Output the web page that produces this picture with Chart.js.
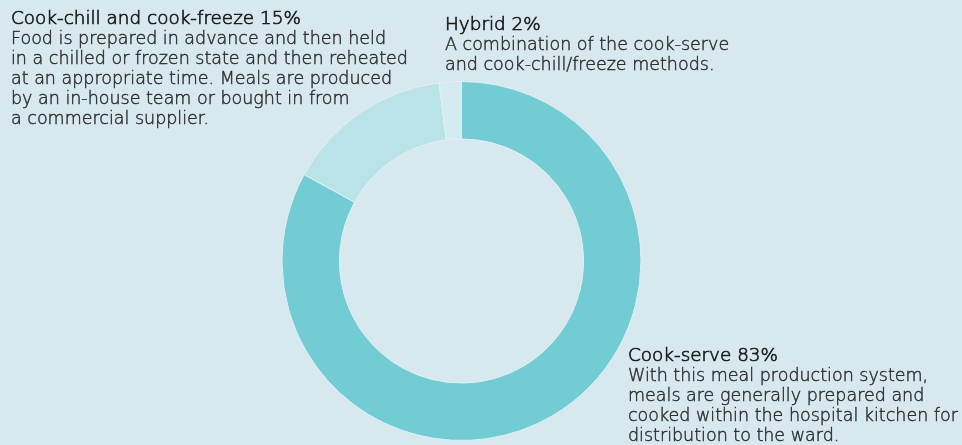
<!DOCTYPE html>
<html>
<head>
<meta charset="utf-8">
<script src="https://cdn.jsdelivr.net/npm/chart.js@4.4.0/dist/chart.umd.min.js"></script>
<style>
  html, body { margin: 0; padding: 0; background: #d7e8ee; }
  #wrap { position: relative; width: 962px; height: 445px; }
</style>
</head>
<body>
<div id="wrap"><canvas id="mealChart" width="962" height="445"></canvas></div>
<script>
// meal production systems, share of hospitals
const categories = ["Cook-serve", "Cook-chill and cook-freeze", "Hybrid"];
const shares = [83, 15, 2];
const sliceColors = ["#72ccd3", "#b9e3e7", "#d4ecf0"];

// descriptive text for each system
const notes = [
  [
    "With this meal production system,",
    "meals are generally prepared and",
    "cooked within the hospital kitchen for",
    "distribution to the ward.",
  ],
  [
    "Food is prepared in advance and then held",
    "in a chilled or frozen state and then reheated",
    "at an appropriate time. Meals are produced",
    "by an in-house team or bought in from",
    "a commercial supplier.",
  ],
  [
    "A combination of the cook-serve",
    "and cook-chill/freeze methods.",
  ],
];

// where each text block sits (left x, first baseline y)
const notePos = [
  { x: 628, y: 361 },
  { x: 11, y: 24 },
  { x: 445, y: 30 },
];

// thin face, thickened a touch with a stroke of the same colour
function drawLine(c, text, x, y, color, weight) {
  c.fillStyle = color;
  c.strokeStyle = color;
  c.lineWidth = weight;
  c.fillText(text, x, y);
  c.strokeText(text, x, y);
}

const calloutPlugin = {
  id: "callouts",
  afterDraw(chart) {
    const c = chart.ctx;
    c.save();
    c.textAlign = "left";
    c.textBaseline = "alphabetic";
    categories.forEach((name, i) => {
      const p = notePos[i];
      c.font = "200 18.4px 'DejaVu Sans'";
      drawLine(c, name + " " + shares[i] + "%", p.x, p.y, "#1c1c1c", 0.7);
      c.font = "200 17.5px 'DejaVu Sans'";
      notes[i].forEach((line, j) => {
        drawLine(c, line, p.x, p.y + 20 * (j + 1), "#2e2e2e", 0.45);
      });
    });
    c.restore();
  },
};

const ctx = document.getElementById("mealChart").getContext("2d");
new Chart(ctx, {
  type: "doughnut",
  data: {
    labels: categories,
    datasets: [
      {
        data: shares,
        backgroundColor: sliceColors,
        borderColor: "#dff0f3",
        borderWidth: 1,
        hoverOffset: 0,
      },
    ],
  },
  options: {
    responsive: false,
    animation: false,
    cutout: "68%",
    rotation: 0,
    layout: {
      padding: { left: 281, right: 320, top: 81, bottom: 4 },
    },
    plugins: {
      legend: { display: false },
      tooltip: { enabled: false },
    },
  },
  plugins: [calloutPlugin],
});
</script>
</body>
</html>
